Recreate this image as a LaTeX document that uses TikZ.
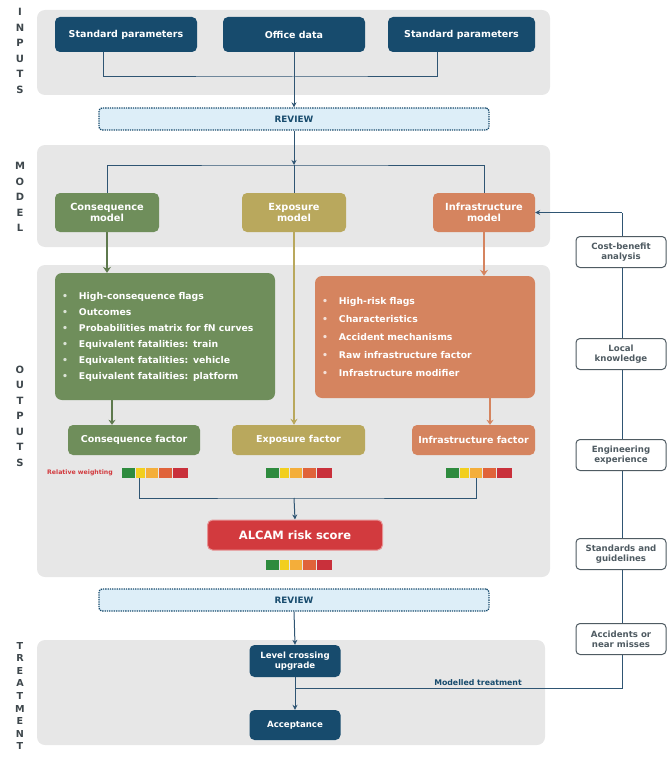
\documentclass[tikz,border=0pt]{standalone}
\usepackage{fontspec}
\setmainfont{DejaVu Sans}
\usetikzlibrary{arrows.meta}
\pgfdeclarelayer{panels}
\pgfdeclarelayer{wires}
\pgfsetlayers{panels,wires,main}
\definecolor{navy}{HTML}{174B6D}
\definecolor{panelgray}{HTML}{E7E7E7}
\definecolor{cgreen}{HTML}{6F8E5B}
\definecolor{colive}{HTML}{B9A85D}
\definecolor{corange}{HTML}{D5845F}
\definecolor{cred}{HTML}{D23A3E}
\definecolor{revfill}{HTML}{DDEEF8}
\definecolor{wire}{HTML}{2F5573}
\definecolor{sidegray}{HTML}{4F5B62}
\definecolor{lettergray}{HTML}{3E474C}
\definecolor{rbA}{HTML}{2E8B3E}
\definecolor{rbB}{HTML}{F2CF1E}
\definecolor{rbC}{HTML}{F4AE3A}
\definecolor{rbD}{HTML}{E0633A}
\definecolor{rbE}{HTML}{C9303B}
\begin{document}
\begin{tikzpicture}[x=1pt,y=-1pt,
  boxbase/.style={rounded corners=5pt, text=white, align=center, inner sep=2pt,
    font=\fontsize{9.5}{11}\selectfont\bfseries},
  navybox/.style={boxbase, fill=navy},
  greenbox/.style={boxbase, fill=cgreen},
  olivebox/.style={boxbase, fill=colive},
  orangebox/.style={boxbase, fill=corange},
  listbox/.style={rounded corners=7pt, text=white, align=left, inner sep=0pt,
    font=\fontsize{9.3}{16}\selectfont\bfseries},
  reviewbox/.style={draw=navy, densely dotted, line width=1.3pt, fill=revfill,
    rounded corners=3pt, minimum width=390pt, minimum height=22pt,
    font=\fontsize{8.8}{10}\selectfont\bfseries, text=navy},
  sidebox/.style={draw=sidegray, line width=1pt, fill=white, rounded corners=4pt,
    minimum width=90pt, minimum height=31pt, align=center, inner sep=1pt,
    font=\fontsize{8.6}{10.2}\selectfont\bfseries, text=sidegray},
  sidelabel/.style={align=center, text=lettergray, inner sep=0pt,
    font=\fontsize{10}{15.5}\selectfont\bfseries},
  conn/.style={draw=wire, line width=1pt},
  arr/.style={conn, -{Stealth[length=5pt,width=5pt]}},
  riskbar/.pic={
    \fill[rbA] (-33,-5) rectangle (-20,5);
    \fill[rbB] (-19,-5) rectangle (-10,5);
    \fill[rbC] (-9,-5) rectangle (3,5);
    \fill[rbD] (4,-5) rectangle (17,5);
    \fill[rbE] (18,-5) rectangle (33,5);
  },
  barframe/.style={minimum width=66pt, minimum height=10pt, inner sep=0pt}
]
\useasboundingbox (0,0) rectangle (669,757);

% ---------- panels ----------
\begin{pgfonlayer}{panels}
  \fill[panelgray, rounded corners=8pt] (37,10) rectangle (550,95);
  \fill[panelgray, rounded corners=8pt] (37,145) rectangle (550,247);
  \fill[panelgray, rounded corners=8pt] (37,265) rectangle (550,577);
  \fill[panelgray, rounded corners=8pt] (37,640) rectangle (545,745);
\end{pgfonlayer}

% ---------- side labels ----------
\node[sidelabel] (lInputs) at (20,51) {I\\N\\P\\U\\T\\S};
\node[sidelabel] (lModel) at (20,197) {M\\O\\D\\E\\L};
\node[sidelabel] (lOutputs) at (20,416) {O\\U\\T\\P\\U\\T\\S};
\node[sidelabel, font=\fontsize{9.6}{12.6}\selectfont\bfseries] (lTreat) at (20,696) {T\\R\\E\\A\\T\\M\\E\\N\\T};

% ---------- inputs ----------
\node[navybox, minimum width=142pt, minimum height=35pt] (sp1) at (126,34.5) {Standard parameters};
\node[navybox, minimum width=142pt, minimum height=35pt] (od) at (294,34.5) {Office data};
\node[navybox, minimum width=147pt, minimum height=35pt] (sp2) at (461.5,34.5) {Standard parameters};

\node[reviewbox] (rev1) at (294,119) {REVIEW};

% ---------- model ----------
\node[greenbox, minimum width=104pt, minimum height=39pt, font=\fontsize{9.8}{11.5}\selectfont\bfseries] (cm) at (107,212.5) {Consequence\\model};
\node[olivebox, minimum width=104pt, minimum height=39pt, font=\fontsize{9.8}{11.5}\selectfont\bfseries] (em) at (294,212.5) {Exposure\\model};
\node[orangebox, minimum width=102pt, minimum height=39pt, font=\fontsize{9.8}{11.5}\selectfont\bfseries] (im) at (484,212.5) {Infrastructure\\model};

% ---------- outputs ----------
\node[listbox, fill=cgreen, minimum width=220pt, minimum height=127pt, text width=206pt] (cl) at (165,336.5) {%
\textcolor{white!75!cgreen}{\textbullet}\hspace{11pt}High-consequence flags\\
\textcolor{white!75!cgreen}{\textbullet}\hspace{11pt}Outcomes\\
\textcolor{white!75!cgreen}{\textbullet}\hspace{11pt}Probabilities matrix for fN curves\\
\textcolor{white!75!cgreen}{\textbullet}\hspace{11pt}Equivalent fatalities: train\\
\textcolor{white!75!cgreen}{\textbullet}\hspace{11pt}Equivalent fatalities: vehicle\\
\textcolor{white!75!cgreen}{\textbullet}\hspace{11pt}Equivalent fatalities: platform};

\node[listbox, fill=corange, minimum width=220pt, minimum height=122pt, text width=206pt,
  font=\fontsize{9.3}{18}\selectfont\bfseries] (ol) at (425,337) {%
\textcolor{white!75!corange}{\textbullet}\hspace{11pt}High-risk flags\\
\textcolor{white!75!corange}{\textbullet}\hspace{11pt}Characteristics\\
\textcolor{white!75!corange}{\textbullet}\hspace{11pt}Accident mechanisms\\
\textcolor{white!75!corange}{\textbullet}\hspace{11pt}Raw infrastructure factor\\
\textcolor{white!75!corange}{\textbullet}\hspace{11pt}Infrastructure modifier};

\node[greenbox, minimum width=132pt, minimum height=30pt] (cf) at (134,440) {Consequence factor};
\node[olivebox, minimum width=133pt, minimum height=30pt] (ef) at (298.5,440) {Exposure factor};
\node[orangebox, minimum width=123pt, minimum height=30pt] (inf) at (473.5,440) {Infrastructure factor};

\node[text=cred, font=\fontsize{6.2}{7}\selectfont\bfseries, anchor=east, inner sep=1pt] (rw) at (114,473) {Relative weighting};
\pic at (155,473) {riskbar};
\node[barframe] (b1) at (155,473) {};
\pic at (298.5,473) {riskbar};
\node[barframe] (b2) at (298.5,473) {};
\pic at (479,473) {riskbar};
\node[barframe] (b3) at (479,473) {};

\node[boxbase, fill=cred, draw=cred!55, line width=1pt, minimum width=175pt, minimum height=30pt,
  font=\fontsize{11.5}{13}\selectfont\bfseries] (alc) at (295,535) {ALCAM risk score};
\pic at (298.5,565) {riskbar};
\node[barframe] (b4) at (298.5,565) {};

% ---------- treatment ----------
\node[reviewbox] (rev2) at (294,600) {REVIEW};
\node[navybox, minimum width=91pt, minimum height=32pt, font=\fontsize{8.6}{10.2}\selectfont\bfseries] (lcu) at (295,661) {Level crossing\\upgrade};
\node[navybox, minimum width=91pt, minimum height=30pt, font=\fontsize{8.6}{10.2}\selectfont\bfseries] (acc) at (295,725) {Acceptance};

% ---------- right column ----------
\node[sidebox] (r1) at (621,252) {Cost-benefit\\analysis};
\node[sidebox] (r2) at (621,354) {Local\\knowledge};
\node[sidebox] (r3) at (621,455) {Engineering\\experience};
\node[sidebox] (r4) at (621,554) {Standards and\\guidelines};
\node[sidebox] (r5) at (621,639) {Accidents or\\near misses};

\coordinate (jIn) at (294,77);
\coordinate (jMod) at (294,165);
\coordinate (jOut) at (294,498);
\coordinate (jTr) at (295,688);
\coordinate (fbBot) at (622,688);
\coordinate (fbTop) at (622,212.5);

\node[text=navy, font=\fontsize{7.8}{9}\selectfont\bfseries, anchor=south, inner sep=1.5pt] (mt) at (478,687) {Modelled treatment};

% ---------- connectors ----------
\begin{pgfonlayer}{wires}
  \draw[conn] ([xshift=-23pt]sp1.south) |- (jIn) -| ([xshift=-24pt]sp2.south);
  \draw[arr] (od.south) -- (rev1.north);
  \draw[arr] (rev1.south) -- (jMod);
  \draw[conn] (cm.north) |- (jMod) -| (im.north);
  \draw[conn] (jMod) -- (em.north);
  \draw[draw=cgreen!85!black, line width=2.6pt, -{Stealth[length=6pt,width=8pt]}] (cm.south) -- (cm.south |- cl.north);
  \draw[draw=colive, line width=2pt, -{Stealth[length=6pt,width=7pt]}] (em.south) -- (em.south |- ef.north);
  \draw[draw=corange, line width=2.4pt, -{Stealth[length=6pt,width=8pt]}] (im.south) -- (im.south |- ol.north);
  \draw[draw=cgreen!85!black, line width=2.2pt, -{Stealth[length=5pt,width=7pt]}] ([xshift=-53pt]cl.south) -- ([xshift=-53pt]cl.south |- cf.north);
  \draw[draw=corange, line width=2.2pt, -{Stealth[length=5pt,width=7pt]}] ([xshift=65pt]ol.south) -- ([xshift=65pt]ol.south |- inf.north);
  \draw[conn] ([xshift=-16pt]b1.south) |- (jOut) -| ([xshift=-3pt]b3.south);
  \draw[arr] (jOut) -- (alc.north);
  \draw[arr] (rev2.south) -- (lcu.north);
  \draw[arr] (lcu.south) -- (acc.north);
  \draw[conn] (jTr) -- (fbBot) -- (fbTop);
  \draw[arr] (fbTop) -- (im.east);
\end{pgfonlayer}
\end{tikzpicture}
\end{document}
